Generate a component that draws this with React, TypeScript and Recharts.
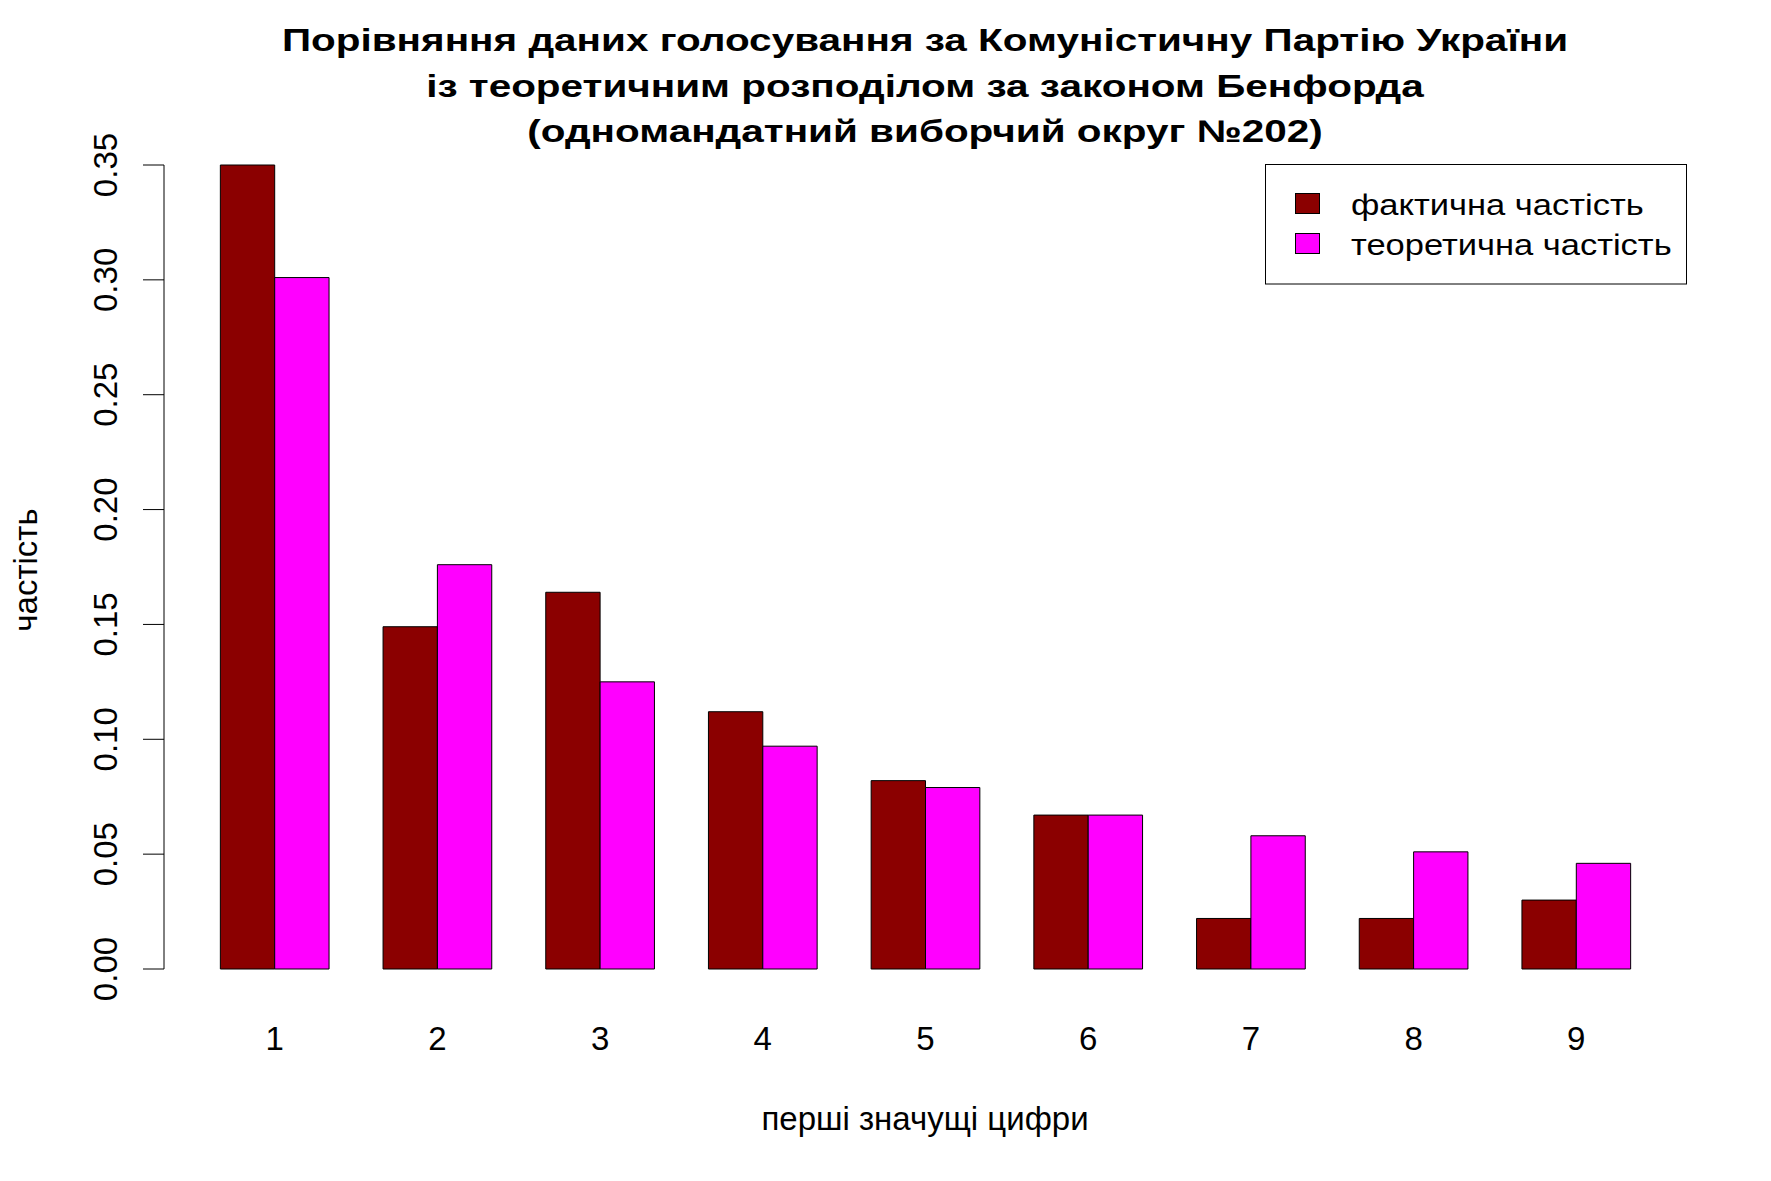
import React from 'react';
import { BarChart, Bar, XAxis, YAxis, Legend, Label } from 'recharts';

const digits = ['1', '2', '3', '4', '5', '6', '7', '8', '9'];
const actualFreq = [0.35, 0.149, 0.164, 0.112, 0.082, 0.067, 0.022, 0.022, 0.03];
const benfordFreq = [0.301, 0.176, 0.125, 0.097, 0.079, 0.067, 0.058, 0.051, 0.046];
const yTicks = [0, 0.05, 0.1, 0.15, 0.2, 0.25, 0.3, 0.35];
const titleLines = [
  'Порівняння даних голосування за Комуністичну Партію України',
  'із теоретичним розподілом за законом Бенфорда',
  '(одномандатний виборчий округ №202)',
];
const seriesNames = ['фактична частість', 'теоретична частість'];
const seriesColors = ['#8B0000', '#FF00FF'];
const xTitle = 'перші значущі цифри';
const yTitle = 'частість';

const data = digits.map((d, i) => ({ digit: d, actual: actualFreq[i], benford: benfordFreq[i] }));

const FONT = '"Liberation Sans", Arial, Helvetica, sans-serif';
const W = 1771;
const H = 1181;

const YTick = (props: any) => {
  const { y, payload } = props;
  const x = 117;
  return (
    <text x={x} y={y} transform={`rotate(-90, ${x}, ${y})`} textAnchor="middle" fontSize={33} fontFamily={FONT} fill="#000">
      {Number(payload.value).toFixed(2)}
    </text>
  );
};

const XTick = (props: any) => {
  const { x, payload } = props;
  return (
    <text x={x} y={1050} textAnchor="middle" fontSize={33} fontFamily={FONT} fill="#000">
      {payload.value}
    </text>
  );
};

const LegendBox = () => (
  <svg width={422} height={121} style={{ display: 'block' }}>
    <rect x={0.5} y={0.5} width={421} height={119.5} fill="#fff" stroke="#000" strokeWidth={1} />
    {seriesNames.map((n, i) => (
      <g key={n}>
        <rect x={30.5} y={29.5 + i * 40} width={24} height={20} fill={seriesColors[i]} stroke="#000" strokeWidth={1} />
        <text
          x={0}
          y={0}
          transform={`translate(86, ${51 + i * 40}) scale(1, 0.86)`}
          fontSize={34.5}
          fontFamily={FONT}
          fill="#000"
        >
          {n}
        </text>
      </g>
    ))}
  </svg>
);

export default function App() {
  return (
    <div style={{ position: 'absolute', left: 0, top: 0, width: W, height: H, background: '#fff' }}>
      <BarChart
        width={W}
        height={H}
        data={data}
        margin={{ top: 165, right: 85, bottom: 152, left: 0 }}
        barGap={0}
        barSize={54.35}
      >
        <XAxis
          dataKey="digit"
          axisLine={false}
          tickLine={false}
          interval={0}
          height={60}
          padding={{ left: 29.35, right: 28.35 }}
          tick={<XTick />}
        >
          <Label
            content={() => (
              <text x={925} y={1130} textAnchor="middle" fontSize={33} fontFamily={FONT} fill="#000">
                {xTitle}
              </text>
            )}
          />
        </XAxis>
        <YAxis
          width={164}
          domain={[0, 0.35]}
          ticks={yTicks}
          interval={0}
          tickSize={21}
          axisLine={{ stroke: '#000', strokeWidth: 1 }}
          tickLine={{ stroke: '#000', strokeWidth: 1 }}
          tick={<YTick />}
        >
          <Label
            content={() => (
              <text x={37} y={570} transform="rotate(-90, 37, 570)" textAnchor="middle" fontSize={33} fontFamily={FONT} fill="#000">
                {yTitle}
              </text>
            )}
          />
        </YAxis>
        <Bar dataKey="actual" name={seriesNames[0]} fill={seriesColors[0]} stroke="#000" strokeWidth={1} isAnimationActive={false} />
        <Bar dataKey="benford" name={seriesNames[1]} fill={seriesColors[1]} stroke="#000" strokeWidth={1} isAnimationActive={false} />
        <Legend
          layout="vertical"
          align="center"
          verticalAlign="middle"
          wrapperStyle={{ left: 1265, top: 164, width: 422, height: 121 }}
          content={<LegendBox />}
        />
      </BarChart>
      <svg width={W} height={160} style={{ position: 'absolute', left: 0, top: 0, pointerEvents: 'none' }}>
        {titleLines.map((t, i) => (
          <text
            key={i}
            x={0}
            y={0}
            transform={`translate(925, ${51 + i * 45.5}) scale(1, 0.77)`}
            textAnchor="middle"
            fontSize={40.5}
            fontWeight="bold"
            fontFamily={FONT}
            fill="#000"
          >
            {t}
          </text>
        ))}
      </svg>
    </div>
  );
}
